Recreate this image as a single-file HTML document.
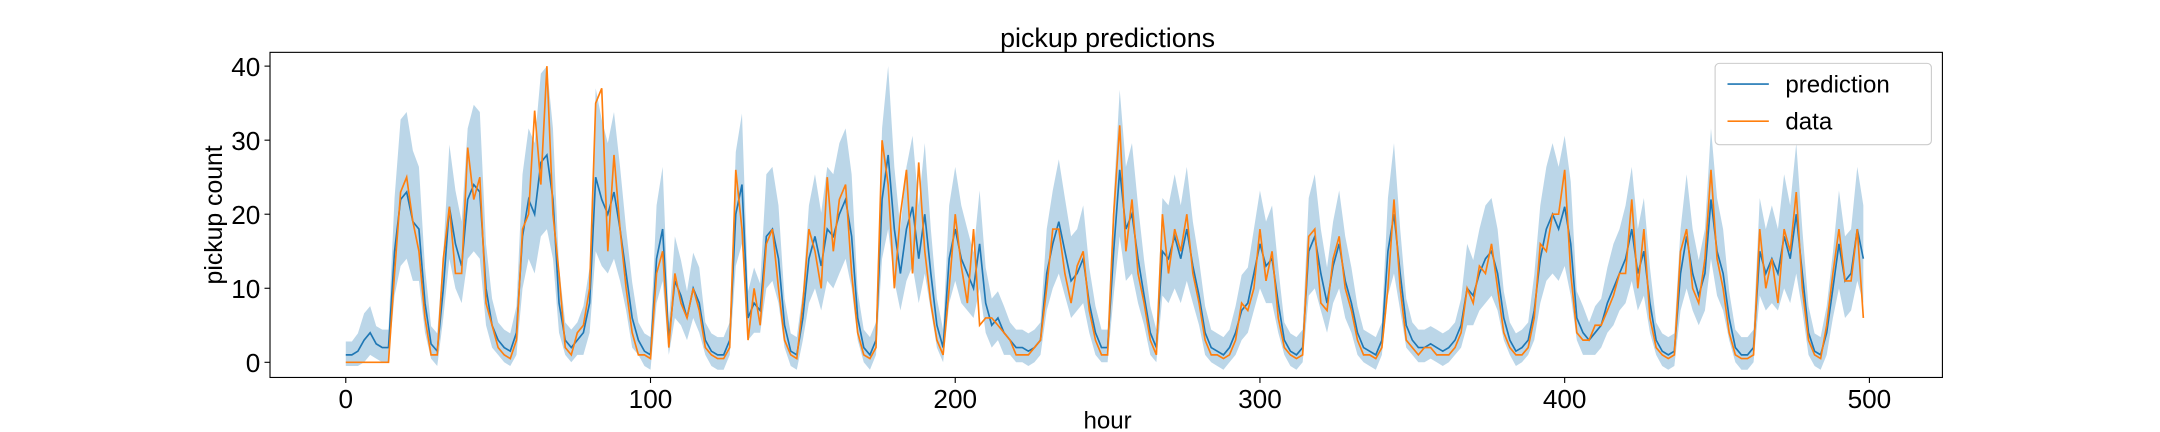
<!DOCTYPE html>
<html><head><meta charset="utf-8"><style>
html,body{margin:0;padding:0;background:#fff;}
svg{display:block;font-family:"Liberation Sans","DejaVu Sans",sans-serif;}
</style></head><body>
<svg id="chart" width="2160" height="432" viewBox="0 0 2160 432" xmlns="http://www.w3.org/2000/svg">
<rect x="0" y="0" width="2160" height="432" fill="#fff"/>
<g id="root" transform="scale(1.3776)">
<g id="band"></g>
<g id="lines"></g>
<rect x="196" y="38" width="1214" height="236" fill="none" stroke="#000" stroke-width="0.8"/>
<g id="xticks"></g>
<g id="yticks"></g>
<text x="804" y="34" font-size="19.5" text-anchor="middle">pickup predictions</text>
<text x="804" y="311" font-size="17.5" text-anchor="middle">hour</text>
<text transform="translate(161,156) rotate(-90)" font-size="18" text-anchor="middle">pickup count</text>
<g>
<rect x="1245" y="46" width="157" height="59" rx="3" fill="#fff" fill-opacity="0.8" stroke="#ccc" stroke-width="0.8"/>
<line x1="1254" y1="61" x2="1284" y2="61" stroke="#1f77b4" stroke-width="1.2"/>
<text x="1296" y="67" font-size="17.5">prediction</text>
<line x1="1254" y1="88" x2="1284" y2="88" stroke="#ff7f0e" stroke-width="1.2"/>
<text x="1296" y="94" font-size="17.5">data</text>
</g>
</g>
</svg>
<script>
const xTicks=[0,100,200,300,400,500];
const yTicks=[0,10,20,30,40];
const pred=[1,1,1.5,3,4,2.5,2,2,
15,22,23,19,18,8,2.5,
1.5,10,21,16,
13,22,24,23,10,5,
3,2,1.5,
4,17,22,20,27,28,22,8,
3,2,3,4,
8,25,22,20,23,18,12,6,3,1.5,
1,14,18,3,11,9,6,10,8,3,
1.5,1,1,3,
20,24,6,8,7,
17,18,14,5,1.5,1,
6,14,17,13,18,17,20,22,17,
6,2,1,3,
22,28,18,12,18,21,14,20,12,5,
2,14,18,14,
12,10,16,8,5,6,
4,3,2,2,1.5,2,3,
12,16,19,15,11,12,14,8,4,2,
2,15,26,18,20,14,9,4,
2,15,14,17,14,18,13,9,4,
2,1.5,1,2,4,7,8,
12,16,13,14,8,3,1.5,
1,2,15,17,12,8,13,16,11,8,
4,2,1.5,1,3,
15,20,12,5,3,2,2,2.5,2,1.5,2,
3,5,10,9,12,14,15,12,6,
3,1.5,2,3,7,14,18,20,18,
21,16,6,4,3,4,5,8,
10,12,14,18,12,15,8,
3,1.5,1,1.5,
12,17,12,9,12,22,15,12,6,
2,1,1,2,
15,12,14,12,17,14,20,12,
4,1.5,1,
4,10,16,11,12,18,14];
const obs=[0,0,0,0,0,0,0,0,
12,23,25,19,15,6,1,
1,14,21,12,
12,29,22,25,8,5,
2,1,0.5,
3,18,20,34,24,40,20,12,
2,1,4,5,
10,35,37,15,28,18,10,4,1,1,
0.5,12,15,2,12,8,6,10,7,2,
1,0.5,0.5,2,
26,18,3,10,5,
16,18,10,3,1,0.5,
8,18,15,10,25,15,22,24,12,
4,1,0.5,2,
30,24,10,20,26,12,27,15,8,3,
1,10,20,13,
8,18,5,6,6,5,
4,3,1,1,1,2,3,
10,18,18,12,8,13,15,7,3,1,
1,20,32,15,22,12,8,3,
1,20,12,18,15,20,12,8,3,
1,1,0.5,1,3,8,7,
10,18,11,15,6,2,1,
0.5,1,17,18,8,7,14,17,10,7,
3,1,1,0.5,2,
10,22,10,3,2,1,2,2,1,1,1,
2,4,10,8,13,12,16,10,4,
2,1,1,2,6,16,15,20,20,
26,12,4,3,3,5,5,7,
9,12,12,22,10,18,6,
2,1,0.5,1,
15,18,10,8,14,26,14,10,4,
1,0.5,0.5,1,
18,10,14,8,18,15,23,10,
3,1,0.5,
5,12,18,11,11,18,6];
const spread=[1.5,1.5,2,3,3,2,2,2,
6,9,9,8,7,4,2,
2,4,7,6,
5,8,9,9,5,3,
2,2,2,
3,7,8,8,10,10,8,4,
2,2,2,3,
4,10,9,8,9,7,5,4,2,2,
2,6,7,2,5,4,3,4,4,2,
2,2,2,2,
7,8,3,4,3,
7,7,6,3,2,2,
3,6,7,6,7,7,8,8,7,
3,2,2,2,
8,10,7,5,7,8,6,8,5,3,
2,6,7,6,
5,4,6,4,3,3,
3,2,2,2,2,2,2,
5,6,7,6,5,5,6,4,3,2,
2,6,9,7,8,6,4,3,
2,6,6,7,6,7,5,4,3,
2,2,2,2,3,4,4,
5,6,5,6,4,2,2,
2,2,6,7,5,4,5,6,5,4,
3,2,2,2,2,
6,8,5,3,2,2,2,2,2,2,2,
2,3,5,4,5,6,6,5,3,
2,2,2,2,4,6,7,8,7,
8,7,3,3,2,3,3,4,
5,5,6,7,5,6,4,
2,2,2,2,
5,7,5,4,5,8,6,5,3,
2,2,2,2,
6,5,6,5,7,6,8,5,
3,2,2,
3,4,6,5,5,7,6];
const hourStep=2;
const NS='http://www.w3.org/2000/svg';
const X=h=>251+h*(1357-251)/500;
const Y=v=>263-v*(263-48)/40;
function mk(tag,attrs,parent){const e=document.createElementNS(NS,tag);for(const k in attrs)e.setAttribute(k,attrs[k]);parent.appendChild(e);return e;}
let up=[],dn=[];
for(let i=0;i<pred.length;i++){const h=i*hourStep;up.push(X(h).toFixed(1)+','+Y(pred[i]+spread[i]*1.2).toFixed(1));dn.unshift(X(h).toFixed(1)+','+Y(Math.max(-1,pred[i]-spread[i])).toFixed(1));}
const band=mk('polygon',{points:up.concat(dn).join(' '),fill:'#1f77b4','fill-opacity':'0.3',stroke:'none'},document.getElementById('band'));


const lg=document.getElementById('lines');
const pl=mk('polyline',{points:pred.map((v,i)=>X(i*hourStep).toFixed(1)+','+Y(v).toFixed(1)).join(' '),fill:'none',stroke:'#1f77b4','stroke-width':'1.2'},lg);


const dl=mk('polyline',{points:obs.map((v,i)=>X(i*hourStep).toFixed(1)+','+Y(v).toFixed(1)).join(' '),fill:'none',stroke:'#ff7f0e','stroke-width':'1.2'},lg);


const xg=document.getElementById('xticks');
xTicks.forEach(t=>{mk('line',{x1:X(t),x2:X(t),y1:274,y2:278,stroke:'#000','stroke-width':'0.8'},xg);
const tx=mk('text',{x:X(t),y:296,'font-size':'19','text-anchor':'middle'},xg);tx.textContent=t;

});
const yg=document.getElementById('yticks');
yTicks.forEach(t=>{mk('line',{x1:192,x2:196,y1:Y(t),y2:Y(t),stroke:'#000','stroke-width':'0.8'},yg);
const tx=mk('text',{x:189,y:Y(t)+7,'font-size':'19','text-anchor':'end'},yg);tx.textContent=t;

});
</script>
</body></html>
